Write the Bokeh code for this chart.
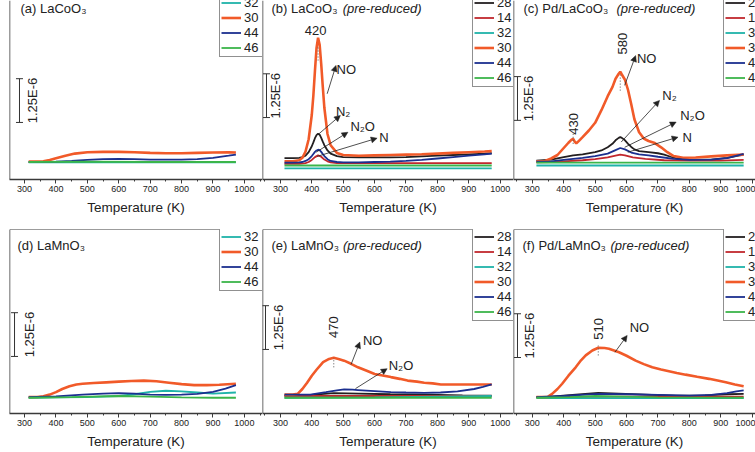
import math

from bokeh.core.properties import value
from bokeh.embed import file_html
from bokeh.layouts import column, row
from bokeh.models import (Arrow, ColumnDataSource, Legend, LegendItem,
                          NormalHead, Range1d, SingleIntervalTicker, Span,
                          TeeHead, Whisker)
from bokeh.plotting import figure
from bokeh.resources import INLINE

# ---------------------------------------------------------------------------
# TPD traces: temperature (K) and ion current (in units of 1E-6) per m/z
# ---------------------------------------------------------------------------

# (a) LaCoO3
a_t32 = [313, 600, 973]
a_i32 = [0.49, 0.50, 0.49]
a_t30 = [313, 340, 360, 380, 400, 430, 460, 500, 550, 600, 650, 700, 750, 800, 850, 900, 950, 973]
a_i30 = [0.51, 0.51, 0.52, 0.56, 0.61, 0.68, 0.74, 0.78, 0.79, 0.79, 0.78, 0.76, 0.75, 0.75, 0.76, 0.77, 0.78, 0.77]
a_t44 = [313, 400, 450, 500, 550, 600, 650, 700, 750, 800, 850, 900, 950, 973]
a_i44 = [0.50, 0.51, 0.53, 0.56, 0.58, 0.59, 0.58, 0.57, 0.57, 0.57, 0.58, 0.62, 0.68, 0.71]
a_t46 = [313, 500, 700, 973]
a_i46 = [0.50, 0.51, 0.50, 0.50]

# (b) LaCoO3, pre-reduced
b_t = [313, 340, 360, 370, 380, 390, 400, 405, 410, 415, 420, 425, 430, 435, 440,
       450, 460, 480, 500, 550, 600, 650, 700, 750, 800, 850, 900, 950, 973]
b_i28 = [0.61, 0.61, 0.62, 0.64, 0.68, 0.78, 0.95, 1.06, 1.18, 1.27, 1.31, 1.28, 1.19, 1.08, 0.98,
         0.83, 0.74, 0.67, 0.64, 0.63, 0.63, 0.63, 0.64, 0.66, 0.68, 0.70, 0.72, 0.74, 0.75]
b_i30 = [0.52, 0.52, 0.55, 0.62, 0.80, 1.15, 1.85, 2.40, 3.10, 3.75, 4.05, 3.85, 3.30, 2.65, 2.05,
         1.30, 0.98, 0.76, 0.70, 0.68, 0.69, 0.70, 0.71, 0.72, 0.74, 0.76, 0.78, 0.80, 0.81]
b_i44 = [0.48, 0.48, 0.49, 0.50, 0.53, 0.58, 0.67, 0.73, 0.79, 0.83, 0.85, 0.84, 0.79, 0.73, 0.67,
         0.58, 0.53, 0.50, 0.49, 0.49, 0.50, 0.51, 0.53, 0.56, 0.60, 0.64, 0.68, 0.72, 0.74]
b_t14 = [313, 360, 380, 390, 400, 410, 420, 430, 440, 450, 460, 480, 973]
b_i14 = [0.45, 0.45, 0.47, 0.50, 0.56, 0.64, 0.69, 0.65, 0.57, 0.52, 0.49, 0.47, 0.47]
b_t32 = [313, 973]
b_i32 = [0.32, 0.32]
b_t46 = [313, 973]
b_i46 = [0.40, 0.40]

# (c) Pd/LaCoO3, pre-reduced
c_t30 = [313, 340, 360, 380, 400, 415, 425, 430, 435, 440, 450, 460, 480, 500, 520, 540, 555, 565, 575,
         580, 585, 595, 605, 615, 625, 640, 655, 670, 690, 710, 730, 750, 780, 820, 870, 920, 973]
c_i30 = [0.52, 0.53, 0.60, 0.70, 0.90, 1.05, 1.14, 1.16, 1.08, 1.03, 1.12, 1.21, 1.40, 1.62, 1.98, 2.38, 2.64, 2.88, 3.02,
         3.08, 3.00, 2.85, 2.55, 2.15, 1.72, 1.35, 1.17, 1.10, 1.04, 0.92, 0.78, 0.67, 0.62, 0.63, 0.66, 0.69, 0.71]
c_t28 = [313, 360, 400, 430, 460, 500, 520, 540, 555, 565, 575, 580, 585, 595, 605, 615, 625, 640,
         670, 700, 720, 740, 760, 800, 870, 920, 973]
c_i28 = [0.54, 0.57, 0.64, 0.69, 0.72, 0.78, 0.83, 0.92, 1.02, 1.12, 1.19, 1.21, 1.19, 1.12, 1.02, 0.93, 0.86, 0.81,
         0.78, 0.75, 0.71, 0.65, 0.60, 0.57, 0.57, 0.62, 0.71]
c_t44 = [313, 360, 400, 430, 460, 500, 540, 565, 580, 595, 615, 640, 670, 700, 750, 800, 870, 920, 973]
c_i44 = [0.51, 0.52, 0.56, 0.59, 0.62, 0.67, 0.74, 0.84, 0.90, 0.86, 0.77, 0.72, 0.69, 0.65, 0.59, 0.56, 0.57, 0.61, 0.73]
c_t14 = [313, 360, 400, 460, 500, 540, 565, 580, 595, 620, 660, 720, 800, 900, 973]
c_i14 = [0.49, 0.50, 0.52, 0.55, 0.58, 0.63, 0.68, 0.71, 0.69, 0.63, 0.59, 0.55, 0.54, 0.54, 0.56]
c_t32 = [313, 973]
c_i32 = [0.40, 0.40]
c_t46 = [313, 973]
c_i46 = [0.48, 0.48]

# (d) LaMnO3
d_t30 = [313, 340, 360, 380, 400, 420, 443, 465, 485, 520, 560, 600, 640, 680, 720, 760, 800, 840, 880, 920, 973]
d_i30 = [0.47, 0.47, 0.49, 0.54, 0.61, 0.70, 0.78, 0.83, 0.85, 0.87, 0.89, 0.91, 0.93, 0.94, 0.92, 0.88, 0.84, 0.81, 0.81, 0.82, 0.85]
d_t44 = [313, 400, 485, 550, 600, 650, 700, 750, 800, 850, 900, 940, 973]
d_i44 = [0.47, 0.49, 0.54, 0.57, 0.58, 0.57, 0.54, 0.53, 0.54, 0.56, 0.62, 0.71, 0.81]
d_t32 = [313, 400, 500, 600, 650, 700, 750, 800, 850, 900, 973]
d_i32 = [0.45, 0.46, 0.47, 0.50, 0.55, 0.62, 0.65, 0.63, 0.60, 0.57, 0.60]
d_t46 = [313, 450, 600, 700, 800, 900, 973]
d_i46 = [0.45, 0.47, 0.50, 0.48, 0.46, 0.45, 0.45]

# (e) LaMnO3, pre-reduced
e_t30 = [313, 340, 355, 370, 385, 400, 415, 436, 455, 470, 485, 503, 525, 547, 575, 600, 630, 652,
         680, 705, 735, 758, 785, 811, 864, 920, 973]
e_i30 = [0.54, 0.54, 0.56, 0.70, 0.88, 1.08, 1.25, 1.47, 1.56, 1.59, 1.56, 1.51, 1.42, 1.32, 1.22, 1.13, 1.08, 1.04,
         0.99, 0.94, 0.91, 0.88, 0.86, 0.83, 0.83, 0.83, 0.83]
e_t44 = [313, 350, 395, 445, 480, 503, 530, 547, 600, 652, 700, 758, 810, 864, 917, 945, 973]
e_i44 = [0.54, 0.54, 0.54, 0.61, 0.66, 0.69, 0.68, 0.67, 0.64, 0.61, 0.60, 0.59, 0.60, 0.63, 0.70, 0.76, 0.83]
e_t28 = [313, 400, 470, 550, 650, 760, 880, 973]
e_i28 = [0.51, 0.53, 0.58, 0.57, 0.55, 0.54, 0.52, 0.51]
e_t14 = [313, 973]
e_i14 = [0.50, 0.50]
e_t32 = [313, 600, 973]
e_i32 = [0.45, 0.46, 0.50]
e_t46 = [313, 973]
e_i46 = [0.45, 0.45]

# (f) Pd/LaMnO3, pre-reduced
f_t30 = [313, 348, 363, 380, 395, 415, 438, 455, 470, 491, 510, 530, 544, 576, 600, 629, 655, 682,
         710, 735, 760, 788, 825, 863, 890, 916, 945, 973]
f_i30 = [0.47, 0.47, 0.56, 0.70, 0.85, 1.08, 1.32, 1.52, 1.66, 1.80, 1.88, 1.87, 1.85, 1.75, 1.65, 1.51, 1.41, 1.32,
         1.26, 1.21, 1.16, 1.11, 1.05, 0.99, 0.94, 0.89, 0.83, 0.78]
f_t28 = [313, 360, 438, 510, 597, 680, 756, 850, 920, 973]
f_i28 = [0.47, 0.48, 0.54, 0.59, 0.56, 0.53, 0.51, 0.52, 0.55, 0.56]
f_t44 = [313, 400, 510, 600, 700, 800, 870, 920, 950, 973]
f_i44 = [0.47, 0.50, 0.56, 0.55, 0.53, 0.51, 0.53, 0.58, 0.63, 0.66]
f_t14 = [313, 600, 973]
f_i14 = [0.47, 0.48, 0.48]
f_t32 = [313, 973]
f_i32 = [0.44, 0.44]
f_t46 = [313, 420, 500, 600, 700, 973]
f_i46 = [0.45, 0.47, 0.50, 0.48, 0.46, 0.45]

# legend order of the m/z channels
MASSES = ["28", "14", "32", "30", "44", "46"]
COLORS = {"28": "#231f20", "14": "#c1272d", "32": "#1fb3a9",
          "30": "#f15a29", "44": "#1b2f8f", "46": "#3bb54a"}
SCALE_BAR = 1.25  # vertical scale bar, in units of 1E-6

INK = "#222222"
FONT = "Liberation Sans"

# grid geometry (pixels)
COL_W = [262, 251, 242]
COL_PAD = [9, 0, 0]
COL_T0 = [252, 243, 240]
PX_PER_K = 0.314
PX_PER_UNIT = 35.0
ROW_FRAME = [179, 184]
ROW_BOTTOM = [50, 39]
ROW_OVERHANG = [5, 0]      # legend box starts slightly above the upper row
LEGEND_ROW_H = 15

panels = [
    dict(col=0, row=0, title="(a) LaCoO\u2083", title_pos=(287, 4.89), italic=None,
         series={"32": (a_t32, a_i32), "30": (a_t30, a_i30), "44": (a_t44, a_i44), "46": (a_t46, a_i46)},
         bar=(283.8, 1.63, 325), peaks=[], arrows=[]),
    dict(col=1, row=0, title="(b) LaCoO\u2083", title_pos=(271.7, 4.89), italic=498.5,
         series={"28": (b_t, b_i28), "14": (b_t14, b_i14), "32": (b_t32, b_i32),
                 "30": (b_t, b_i30), "44": (b_t, b_i44), "46": (b_t46, b_i46)},
         bar=(255.7, 1.77, 284.4),
         peaks=[("420", 420, 412, 4.26, 0.0, 3.40, 3.77)],
         arrows=[("NO", 449, 2.45, 477, 3.26, 479, 3.14),
                 ("N\u2082", 422, 1.30, 491, 1.83, 477, 1.95),
                 ("N\u2082O", 414, 0.78, 515, 1.35, 523, 1.51),
                 ("N", 417, 0.66, 608, 1.18, 615, 1.21)]),
    dict(col=2, row=0, title="(c) Pd/LaCoO\u2083", title_pos=(271.8, 4.89), italic=568,
         series={"28": (c_t28, c_i28), "14": (c_t14, c_i14), "32": (c_t32, c_i32),
                 "30": (c_t30, c_i30), "44": (c_t44, c_i44), "46": (c_t46, c_i46)},
         bar=(252.7, 1.69, 287.8),
         peaks=[("580", 580, 588, 3.88, math.pi / 2, 2.54, 3.03),
                ("430", 430, 431, 1.59, math.pi / 2, 1.02, 1.35)],
         arrows=[("NO", 594, 2.69, 629, 3.54, 633, 3.45),
                 ("N\u2082", 583, 1.07, 705, 2.26, 714, 2.40),
                 ("N\u2082O", 594, 0.92, 758, 1.64, 771, 1.83),
                 ("N", 604, 0.78, 764, 1.21, 778, 1.19)]),
    dict(col=0, row=1, title="(d) LaMnO\u2083", title_pos=(277.5, 4.80), italic=None,
         series={"32": (d_t32, d_i32), "30": (d_t30, d_i30), "44": (d_t44, d_i44), "46": (d_t46, d_i46)},
         bar=(268, 1.63, 315.7), peaks=[], arrows=[]),
    dict(col=1, row=1, title="(e) LaMnO\u2083", title_pos=(271.7, 4.80), italic=499.5,
         series={"28": (e_t28, e_i28), "14": (e_t14, e_i14), "32": (e_t32, e_i32),
                 "30": (e_t30, e_i30), "44": (e_t44, e_i44), "46": (e_t46, e_i46)},
         bar=(252.6, 1.83, 294),
         peaks=[("470", 470, 470, 2.47, math.pi / 2, 1.32, 1.59)],
         arrows=[("NO", 525, 1.40, 553, 2.04, 563, 2.09),
                 ("N\u2082O", 539, 0.71, 640, 1.28, 645, 1.37)]),
    dict(col=2, row=1, title="(f) Pd/LaMnO\u2083", title_pos=(268.7, 4.80), italic=549,
         series={"28": (f_t28, f_i28), "14": (f_t14, f_i14), "32": (f_t32, f_i32),
                 "30": (f_t30, f_i30), "44": (f_t44, f_i44), "46": (f_t46, f_i46)},
         bar=(252.7, 1.60, 291),
         peaks=[("510", 510, 510, 2.42, math.pi / 2, 1.66, 1.94)],
         arrows=[("NO", 563, 1.75, 602, 2.23, 610, 2.47)]),
]


def put_text(p, x, y, text, size="13px", style="normal", align="left", angle=0.0):
    p.text(x=[x], y=[y], text=[text], angle=angle, text_align=align,
           text_baseline="middle", text_font=value(FONT), text_font_size=size,
           text_font_style=style, text_color=INK)


def build_panel(spec):
    c, r = spec["col"], spec["row"]
    t0 = COL_T0[c]
    t1 = t0 + (COL_W[c] - COL_PAD[c]) / PX_PER_K
    ytop = ROW_FRAME[r] / PX_PER_UNIT

    p = figure(width=COL_W[c], height=ROW_FRAME[r] + ROW_BOTTOM[r],
               x_range=Range1d(t0, t1), y_range=Range1d(0, ytop),
               min_border_left=COL_PAD[c], min_border_right=0,
               min_border_top=0, min_border_bottom=ROW_BOTTOM[r],
               output_backend="svg", toolbar_location=None,
               outline_line_color=None, background_fill_color="white",
               border_fill_color="white")
    p.grid.visible = False
    p.yaxis.visible = False

    ax = p.xaxis[0]
    ax.ticker = SingleIntervalTicker(interval=100, num_minor_ticks=2)
    ax.axis_label = "Temperature (K)"
    ax.axis_label_text_font = FONT
    ax.axis_label_text_font_size = "13.5px"
    ax.axis_label_text_font_style = "normal"
    ax.axis_label_text_color = INK
    ax.axis_label_standoff = 5
    ax.major_label_text_font = FONT
    ax.major_label_text_font_size = "9px"
    ax.major_label_text_color = INK
    ax.major_label_standoff = 2
    ax.axis_line_color = "#3a3a3a"
    ax.axis_line_width = 1.5
    ax.major_tick_line_color = "#3a3a3a"
    ax.minor_tick_line_color = "#3a3a3a"
    ax.major_tick_in = 0
    ax.major_tick_out = 4
    ax.minor_tick_in = 0
    ax.minor_tick_out = 2

    # frame edges: left axis line for every panel, top line for the lower row
    p.add_layout(Span(location=t0, dimension="height", line_color="#3a3a3a", line_width=1.5))
    if r == 1:
        p.add_layout(Span(location=ytop, dimension="width", line_color="#3a3a3a", line_width=1.2))

    # traces
    renderers = {}
    for m in MASSES:
        if m in spec["series"]:
            t, i = spec["series"][m]
            renderers[m] = p.line(t, i, line_color=COLORS[m],
                                  line_width=2.6 if m == "30" else 1.8)

    items = [LegendItem(label=m, renderers=[renderers[m]]) for m in MASSES if m in renderers]
    pad = 1
    legend_h = len(items) * LEGEND_ROW_H + 2 * pad
    legend = Legend(items=items,
                    location=(210, ROW_FRAME[r] + ROW_OVERHANG[r] - legend_h),
                    orientation="vertical",
                    label_text_font=FONT, label_text_font_size="13px", label_text_color=INK,
                    glyph_width=20, glyph_height=LEGEND_ROW_H, label_height=LEGEND_ROW_H,
                    label_standoff=3, spacing=0, padding=pad, margin=0,
                    border_line_color=INK, border_line_width=1,
                    background_fill_color="white", background_fill_alpha=1.0)
    p.add_layout(legend)

    # panel title
    tx, ty = spec["title_pos"]
    put_text(p, tx, ty, spec["title"])
    if spec["italic"] is not None:
        put_text(p, spec["italic"], ty, "(pre-reduced)", style="italic")

    # intensity scale bar
    bx, by, btx = spec["bar"]
    src = ColumnDataSource(dict(base=[bx], lower=[by], upper=[by + SCALE_BAR]))
    p.add_layout(Whisker(source=src, base="base", lower="lower", upper="upper", dimension="height",
                         line_color="#333333", line_width=1,
                         upper_head=TeeHead(size=7, line_color="#333333", line_width=1),
                         lower_head=TeeHead(size=7, line_color="#333333", line_width=1)))
    put_text(p, btx, by + SCALE_BAR / 2, f"{SCALE_BAR}E-6", align="center", angle=math.pi / 2)

    # peak temperatures
    for text, tpk, lx, ly, ang, y0, y1 in spec["peaks"]:
        p.segment(x0=[tpk], y0=[y0], x1=[tpk], y1=[y1], line_color="#555555",
                  line_width=1, line_dash="1 2")
        put_text(p, lx, ly, text, align="center", angle=ang)

    # species assignments
    for text, x0, y0, x1, y1, lx, ly in spec["arrows"]:
        p.add_layout(Arrow(x_start=x0, y_start=y0, x_end=x1, y_end=y1,
                           line_color=INK, line_width=0.8,
                           end=NormalHead(size=6, fill_color=INK, line_color=INK, line_width=0.5)))
        put_text(p, lx, ly, text)
    return p


figs = [build_panel(s) for s in panels]
layout = column(row(*figs[:3]), row(*figs[3:]))

html = file_html(layout, INLINE, title="TPD profiles")
with open("out.html", "w") as fh:
    fh.write(html)
